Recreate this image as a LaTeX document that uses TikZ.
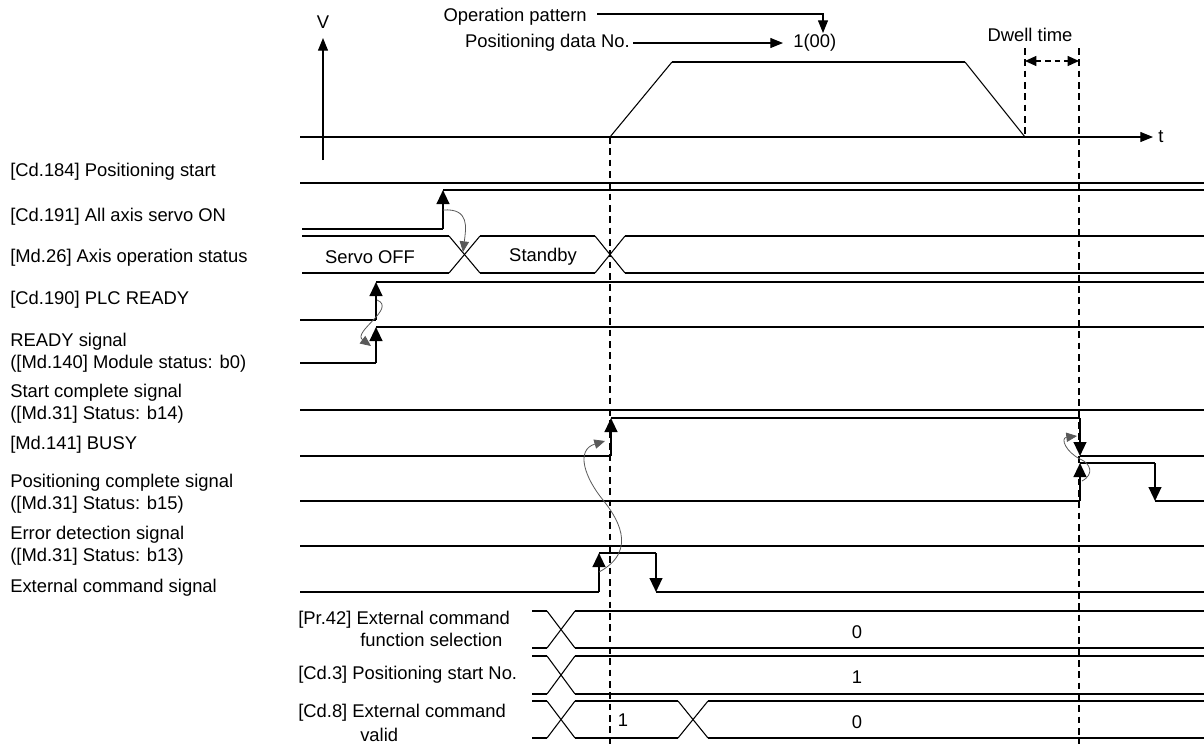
\documentclass[tikz,border=0pt]{standalone}
\usepackage{fontspec}
\setmainfont{Liberation Sans}
\usetikzlibrary{arrows.meta}
\begin{document}
\begin{tikzpicture}[x=0.75pt,y=-0.75pt,
  every node/.style={inner sep=0pt,font=\fontsize{13.8}{16.5}\selectfont},
  sig/.style={line width=1.6pt,line join=miter},
  bus/.style={line width=1.4pt},
  busx/.style={line width=0.8pt},
  axis/.style={line width=0.8pt},
  guide/.style={line width=0.8pt,dash pattern=on 5pt off 3.5pt},
  tipA/.style={-{Triangle[width=9.5pt,length=10.5pt]}},
  tipT/.style={-{Triangle[width=7.5pt,length=9.5pt]}},
  tipS/.style={-{Triangle[width=7pt,length=8pt]}},
  link/.style={line width=0.6pt,draw=black!65,tipS},
  lbl/.style={anchor=west,align=left}]
\useasboundingbox (0,0) rectangle (1204,744);

% ---------- velocity diagram ----------
\node (V) at (323,22) {V};
\node[anchor=west] (T) at (1158,137) {t};
\coordinate (vb) at (323,160);
\coordinate (vt) at (323,38);
\coordinate (ta) at (300,137);
\coordinate (tb) at (1153,137);
\draw[axis,tipT] (vb) -- (vt);
\draw[axis,tipT] (ta) -- (tb);

\coordinate (p0) at (610,137);
\coordinate (p1) at (672,62);
\coordinate (p2) at (965,62);
\coordinate (p3) at (1025,137);
\draw[axis] (p0) -- (p1);
\draw[line width=1.6pt] (p1) -- (p2);
\draw[axis] (p2) -- (p3);

\node[anchor=east] (op) at (587,17) {Operation pattern};
\node[anchor=east] (pd) at (630,43) {Positioning data No.};
\node[anchor=west] (pn) at (793,43) {1(00)};
\coordinate (opc) at (823,14);
\coordinate (ope) at (823,33);
\draw[axis,tipT] (597,14) -- (opc) -- (ope);
\draw[axis,tipT] (633,43) -- (783,43);

\node (dw) at (1030,35) {Dwell time};
\coordinate (d1t) at (1025,48);
\coordinate (d2t) at (1079,48);
\draw[guide] (d1t) -- (p3);
\draw[guide] (d2t) -- (1079,744);
\draw[guide] (p0) -- (610,744);
\draw[line width=0.8pt,dash pattern=on 4pt off 3pt,{Triangle[width=7.5pt,length=8.5pt]}-{Triangle[width=7.5pt,length=8.5pt]}] (1025,61) -- (1079,61);

% ---------- labels ----------
\node[lbl] (l1) at (10,172) {[Cd.184] Positioning start};
\node[lbl] (l2) at (10,217) {[Cd.191] All axis servo ON};
\node[lbl] (l3) at (10,258) {[Md.26] Axis operation status};
\node[lbl] (l4) at (10,300) {[Cd.190] PLC READY};
\node[lbl] (l5) at (10,353) {READY signal\\([Md.140] Module status: b0)};
\node[lbl] (l6) at (10,404) {Start complete signal\\([Md.31] Status: b14)};
\node[lbl] (l7) at (10,445) {[Md.141] BUSY};
\node[lbl] (l8) at (10,494) {Positioning complete signal\\([Md.31] Status: b15)};
\node[lbl] (l9) at (10,546) {Error detection signal\\([Md.31] Status: b13)};
\node[lbl] (l10) at (10,588) {External command signal};

% ---------- signals ----------
\draw[sig] (300,183) -- (1204,183);
% Cd.191
\draw[sig] (302,229) -- (443,229);
\draw[sig,tipA] (443,229) -- (443,190);
\draw[sig] (443,190) -- (1204,190);
% Md.26
\draw[bus] (302,236) -- (449,236); \draw[bus] (302,273) -- (449,273);
\draw[busx] (449,236) -- (480,273); \draw[busx] (449,273) -- (480,236);
\draw[bus] (480,236) -- (595,236); \draw[bus] (480,273) -- (595,273);
\draw[busx] (595,236) -- (625,273); \draw[busx] (595,273) -- (625,236);
\draw[bus] (625,236) -- (1204,236); \draw[bus] (625,273) -- (1204,273);
\node (so) at (370,257) {Servo OFF};
\node (sb) at (543,257) {Standby};
% Cd.190
\draw[sig] (300,320) -- (376,320);
\draw[sig,tipA] (376,320) -- (376,282);
\draw[sig] (376,282) -- (1204,282);
% READY
\draw[sig] (300,363) -- (376,363);
\draw[sig,tipA] (376,363) -- (376,327);
\draw[sig] (376,327) -- (1204,327);
% Start complete
\draw[sig] (300,410) -- (1204,410);
% BUSY
\draw[sig] (300,456) -- (611,456);
\draw[sig,tipA] (611,456) -- (611,418);
\draw[sig] (611,418) -- (1080,418);
\draw[sig,tipA] (1080,418) -- (1080,456);
\draw[sig] (1080,456) -- (1204,456);
% Positioning complete
\draw[sig] (300,501) -- (1080,501);
\draw[sig,tipA] (1080,501) -- (1080,463);
\draw[sig] (1080,463) -- (1155,463);
\draw[sig,tipA] (1155,463) -- (1155,501);
\draw[sig] (1155,501) -- (1204,501);
% Error detection
\draw[sig] (300,546) -- (1204,546);
% External command
\draw[sig] (300,592) -- (599,592);
\draw[sig,tipA] (599,592) -- (599,553);
\draw[sig] (599,553) -- (656,553);
\draw[sig,tipA] (656,553) -- (656,592);
\draw[sig] (656,592) -- (1204,592);

% ---------- causal links ----------
\draw[link] (443,210) .. controls (470,208) and (466,228) .. (463,252);
\draw[link] (377,300) .. controls (397,308) and (352,332) .. (371,346);
\draw[link] (599,572) .. controls (640,550) and (615,515) .. (603,500)
  .. controls (585,478) and (575,450) .. (605,441);
\draw[link] (1082,481) .. controls (1095,474) and (1090,463) .. (1080,459)
  .. controls (1066,452) and (1060,438) .. (1077,436);

% ---------- buses (bottom) ----------
\node[anchor=west] (b1a) at (298,620) {[Pr.42] External command};
\node[anchor=west] (b1b) at (360,640) {function selection};
\node[anchor=west] (b2) at (298,675) {[Cd.3] Positioning start No.};
\node[anchor=west] (b3a) at (298,713) {[Cd.8] External command};
\node[anchor=west] (b3b) at (360,735) {valid};

\foreach \ya/\yb in {611/648, 656/694, 701/738}{
  \draw[bus] (532,\ya) -- (547,\ya); \draw[bus] (532,\yb) -- (547,\yb);
  \draw[busx] (547,\ya) -- (575,\yb); \draw[busx] (547,\yb) -- (575,\ya);
}
\draw[bus] (575,611) -- (1204,611); \draw[bus] (575,648) -- (1204,648);
\draw[bus] (575,656) -- (1204,656); \draw[bus] (575,694) -- (1204,694);
\draw[bus] (575,701) -- (678,701); \draw[bus] (575,738) -- (678,738);
\draw[busx] (678,701) -- (708,738); \draw[busx] (678,738) -- (708,701);
\draw[bus] (708,701) -- (1204,701); \draw[bus] (708,738) -- (1204,738);

\node (v1) at (857,632) {0};
\node (v2) at (857,677) {1};
\node (v3) at (857,722) {0};
\node (v4) at (623,720) {1};
\end{tikzpicture}
\end{document}
